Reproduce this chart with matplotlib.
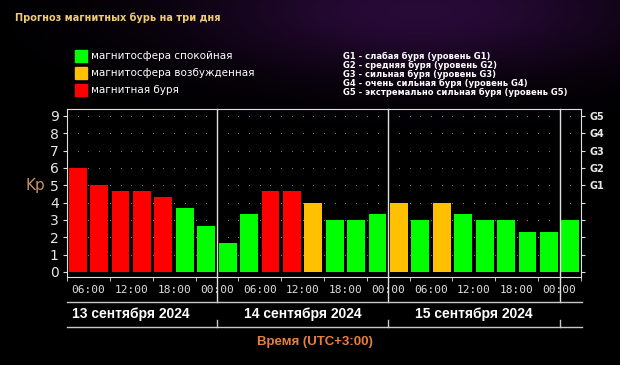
import numpy as np
import matplotlib.pyplot as plt

# прогноз Kp по трёхчасовым интервалам, начиная с 13.09 03:00
kp = [6.0, 5.0, 4.67, 4.67, 4.33, 3.67, 2.67,
      1.67, 3.33, 4.67, 4.67, 4.0, 3.0, 3.0, 3.33,
      4.0, 3.0, 4.0, 3.33, 3.0, 3.0, 2.33, 2.33,
      3.0]
level = ['r', 'r', 'r', 'r', 'r', 'g', 'g',
         'g', 'g', 'r', 'r', 'y', 'g', 'g', 'g',
         'y', 'g', 'y', 'g', 'g', 'g', 'g', 'g',
         'g']
hour_labels = ['06:00', '12:00', '18:00', '00:00']
days = ['13 сентября 2024', '14 сентября 2024', '15 сентября 2024']
g_labels = ['G1', 'G2', 'G3', 'G4', 'G5']
legend_items = ['магнитосфера спокойная', 'магнитосфера возбужденная', 'магнитная буря']
g_text = ['G1 - слабая буря (уровень G1)',
          'G2 - средняя буря (уровень G2)',
          'G3 - сильная буря (уровень G3)',
          'G4 - очень сильная буря (уровень G4)',
          'G5 - экстремально сильная буря (уровень G5)']

colors = {'g': '#00ff00', 'y': '#ffc000', 'r': '#ff0000'}
W, H = 620, 365

fig = plt.figure(figsize=(6.2, 3.65), dpi=100)
fig.patch.set_facecolor('black')

# фиолетовая дымка сверху
bg = fig.add_axes([0, 0, 1, 1], zorder=-10)
yy, xx = np.mgrid[0:H, 0:W]
glow = np.exp(-((xx - 420) ** 2 / 2 / 160 ** 2 + (yy - 10) ** 2 / 2 / 45 ** 2))
glow += 0.8 * np.exp(-((xx - 880) ** 2 / 2 / 60 ** 2 + (yy - 0) ** 2 / 2 / 40 ** 2))
img = np.zeros((H, W, 3))
img[..., 0] = 0.16 * glow
img[..., 1] = 0.04 * glow
img[..., 2] = 0.22 * glow
bg.imshow(img, extent=[0, W, H, 0], aspect='auto')
bg.set_xlim(0, W)
bg.set_ylim(H, 0)
bg.axis('off')

ax = fig.add_axes([67 / W, 1 - 277 / H, 514 / W, 168 / H])
ax.set_facecolor('none')
x = 3 + 3 * np.arange(len(kp)) + 1.5
ax.bar(x, kp, width=2.5, color=[colors[c] for c in level], zorder=3)

# точечная сетка
gx, gy = np.meshgrid(np.arange(4.5, 75, 1.5), np.arange(1, 10))
ax.scatter(gx.ravel(), gy.ravel(), s=0.6, color='#8a8a8a', zorder=1, linewidths=0)

ax.set_xlim(3, 75)
ax.set_ylim(-0.29, 9.4)
for s in ax.spines.values():
    s.set_color('#e0e0e0')
ax.set_yticks(range(10))
ax.set_yticklabels([str(i) for i in range(10)], color='#e8e8e8', fontsize=10)
ax.tick_params(axis='y', colors='#e0e0e0', length=3, pad=3, labelcolor='#e8e8e8')
ax.set_xticks(np.arange(3, 76, 3), minor=True)
ax.set_xticks(np.arange(6, 73, 6))
ax.set_xticklabels(hour_labels * 3, family='DejaVu Sans Mono', fontsize=8, color='#e0e0e0')
ax.tick_params(axis='x', which='both', colors='#e0e0e0', length=3, labelcolor='#e0e0e0')
ax.tick_params(axis='x', which='major', length=0, pad=6)

ax2 = ax.twinx()
ax2.set_ylim(ax.get_ylim())
ax2.set_yticks(range(10))
ax2.set_yticklabels([''] * 5 + g_labels, color='#e8e8e8', fontsize=7, fontweight='bold')
ax2.tick_params(axis='y', colors='#e0e0e0', length=3, pad=3, labelcolor='#e8e8e8')
for s in ax2.spines.values():
    s.set_visible(False)

# разделители суток
for d in [24, 48, 72]:
    ax.plot([d, d], [-1.73, 9.4], color='#e0e0e0', lw=1, clip_on=False, zorder=4)

ax.text(-1.4, 5, 'Kp', color='#c8906a', fontsize=11, ha='center', va='center')

# полоса с датами
for yl in [302, 327]:
    fig.add_artist(plt.Line2D([67 / W, 582 / W], [1 - yl / H] * 2, color='#c8c8c8', lw=1))
for d in [24, 48, 72]:
    xf = (67 + (d - 3) / 72 * 514) / W
    fig.add_artist(plt.Line2D([xf, xf], [1 - 320 / H, 1 - 327 / H], color='#c8c8c8', lw=1))
for i, day in enumerate(days):
    xf = (67 + (12 + 24 * i - 3) / 72 * 514) / W
    fig.text(xf, 1 - 314 / H, day, color='white', fontsize=10, fontweight='bold',
             family=['Liberation Sans', 'DejaVu Sans'], ha='center', va='center')
fig.text(315 / W, 1 - 342 / H, 'Время (UTC+3:00)', color='#e8803a', fontsize=9.5,
         fontweight='bold', family=['Liberation Sans', 'DejaVu Sans'],
         ha='center', va='center')

fig.text(15 / W, 1 - 18 / H, 'Прогноз магнитных бурь на три дня', color='#f0cc70',
         fontsize=7, fontweight='bold', ha='left', va='center')

for i, (lab, c) in enumerate(zip(legend_items, ['g', 'y', 'r'])):
    yc = 56 + 17 * i
    fig.add_artist(plt.Rectangle((75 / W, 1 - (yc + 6) / H), 12 / W, 12 / H,
                                 color=colors[c], transform=fig.transFigure))
    fig.text(91 / W, 1 - yc / H, lab, color='white', fontsize=7.5, ha='left', va='center')

for i, t in enumerate(g_text):
    fig.text(343 / W, 1 - (56 + 9.2 * i) / H, t, color='white', fontsize=6,
             fontweight='bold', ha='left', va='center')

fig.savefig('out.png', dpi=100, facecolor=fig.get_facecolor())
